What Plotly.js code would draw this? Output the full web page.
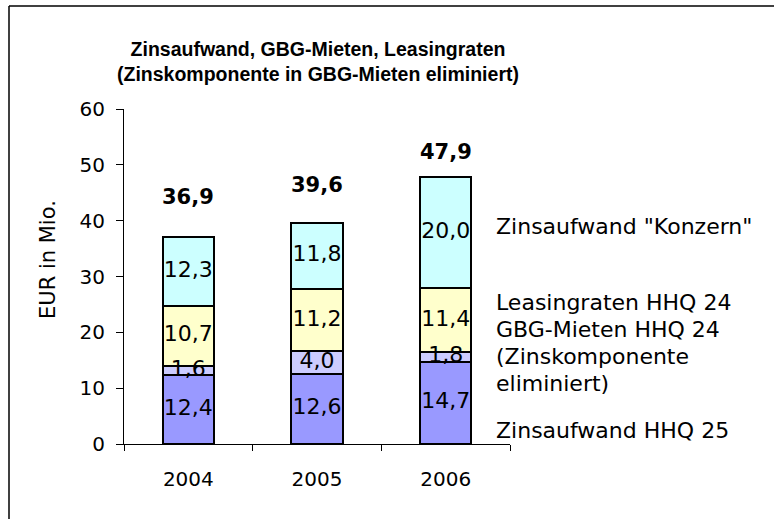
<!DOCTYPE html>
<html><head><meta charset="utf-8">
<script src="https://cdn.plot.ly/plotly-3.0.1.min.js"></script>
<style>html,body{margin:0;padding:0;background:#fff}#chart{width:774px;height:519px}</style>
</head><body><div id="chart"></div>
<script>
// ---- data ----
const years = ['2004', '2005', '2006'];
const zinsHHQ25 = [12.4, 12.6, 14.7];
const gbgMieten = [1.6, 4.0, 1.8];
const leasingraten = [10.7, 11.2, 11.4];
const zinsKonzern = [12.3, 11.8, 20.0];
const totals = [36.9, 39.6, 47.9];
const totalLabels = ['36,9', '39,6', '47,9'];
const seriesNames = ['Zinsaufwand HHQ 25', 'GBG-Mieten HHQ 24 (Zinskomponente eliminiert)', 'Leasingraten HHQ 24', 'Zinsaufwand "Konzern"'];
const yTicks = [0, 10, 20, 30, 40, 50, 60];

// ---- styling ----
const FONT = 'DejaVu Sans, Verdana, sans-serif';
const colors = ['#9999FF', '#CCCCFF', '#FFFFCC', '#CCFFFF'];
const seriesValues = [zinsHHQ25, gbgMieten, leasingraten, zinsKonzern];

const traces = seriesValues.map((vals, i) => ({
  type: 'bar',
  name: seriesNames[i],
  x: years,
  y: vals,
  marker: {color: colors[i], line: {color: '#000', width: 2}},
  textposition: 'none',
  hoverinfo: 'skip'
}));

// segment value labels drawn on top of all bars (centred in each segment)
const running = years.map(() => 0);
seriesValues.forEach(vals => {
  const mids = vals.map((v, j) => running[j] + v / 2);
  vals.forEach((v, j) => { running[j] += v; });
  traces.push({
    type: 'scatter', mode: 'text', x: years, y: mids,
    text: vals.map(v => v.toFixed(1).replace('.', ',')),
    textposition: 'middle center',
    textfont: {family: FONT, size: 22, color: '#000'},
    hoverinfo: 'skip', showlegend: false
  });
});

// pixel lift of the bold total above each bar top
const totalShift = [41, 38, 25];
const annotations = years.map((yr, i) => ({
  x: i, y: totals[i], xref: 'x', yref: 'y',
  text: '<b>' + totalLabels[i] + '</b>',
  showarrow: false, yanchor: 'middle', yshift: totalShift[i],
  font: {family: FONT, size: 21, color: '#000'}
}));

// right-hand series labels (in place of a legend)
const sideLabels = [
  {text: seriesNames[3], y: 226},
  {text: 'Leasingraten HHQ 24', y: 302},
  {text: 'GBG-Mieten HHQ 24', y: 329},
  {text: '(Zinskomponente', y: 356},
  {text: 'eliminiert)', y: 383},
  {text: seriesNames[0], y: 430}
];
const plotTop = 109, plotBottom = 444, plotLeft = 124, plotRight = 510;
const px = x => (x - plotLeft) / (plotRight - plotLeft);
const py = y => (plotBottom - y) / (plotBottom - plotTop);
sideLabels.forEach(s => annotations.push({
  xref: 'paper', yref: 'paper', x: px(494), y: py(s.y),
  xanchor: 'left', yanchor: 'middle', showarrow: false,
  text: s.text, font: {family: FONT, size: 22, color: '#000'}
}));

// y-axis title placed as in the reference
annotations.push({
  xref: 'paper', yref: 'paper', x: px(48), y: py(260),
  xanchor: 'center', yanchor: 'middle', textangle: -90, showarrow: false,
  text: 'EUR in Mio.', font: {family: FONT, size: 21, color: '#000'}
});

const layout = {
  width: 774, height: 519,
  margin: {l: plotLeft, r: 774 - plotRight, t: plotTop, b: 519 - plotBottom, pad: 0},
  paper_bgcolor: '#fff', plot_bgcolor: '#fff',
  separators: ',.',
  barmode: 'stack',
  bargap: 0.6,
  showlegend: false,
  title: {
    text: '<b>Zinsaufwand, GBG-Mieten, Leasingraten<br>(Zinskomponente in GBG-Mieten eliminiert)</b>',
    font: {family: 'Liberation Sans, Arial, sans-serif', size: 19.5, color: '#000'},
    x: 318 / 774, xanchor: 'center',
    y: 1 - 56 / 519, yanchor: 'middle', yref: 'container'
  },
  xaxis: {
    type: 'category', range: [-0.5, 2.5],
    showline: true, linecolor: '#000', linewidth: 1,
    ticks: 'outside', tickson: 'boundaries', ticklen: 6, tickcolor: '#000',
    showgrid: false, zeroline: false, tickangle: 0, ticklabelstandoff: 17,
    tickfont: {family: FONT, size: 20, color: '#000'}
  },
  yaxis: {
    range: [0, 60], tickvals: yTicks, ticktext: yTicks.map(String),
    showline: true, linecolor: '#000', linewidth: 1,
    ticks: 'outside', ticklen: 7, tickcolor: '#000',
    showgrid: false, zeroline: false, ticklabelstandoff: 7,
    tickfont: {family: FONT, size: 20, color: '#000'}
  },
  annotations: annotations,
  shapes: [
    {type: 'line', xref: 'paper', yref: 'paper', x0: px(9), x1: px(774), y0: py(6), y1: py(6), line: {color: '#000', width: 1.5}},
    {type: 'line', xref: 'paper', yref: 'paper', x0: px(9), x1: px(9), y0: py(6), y1: py(519), line: {color: '#000', width: 1.5}}
  ]
};

Plotly.newPlot('chart', traces, layout, {displayModeBar: false, staticPlot: true});
</script></body></html>
